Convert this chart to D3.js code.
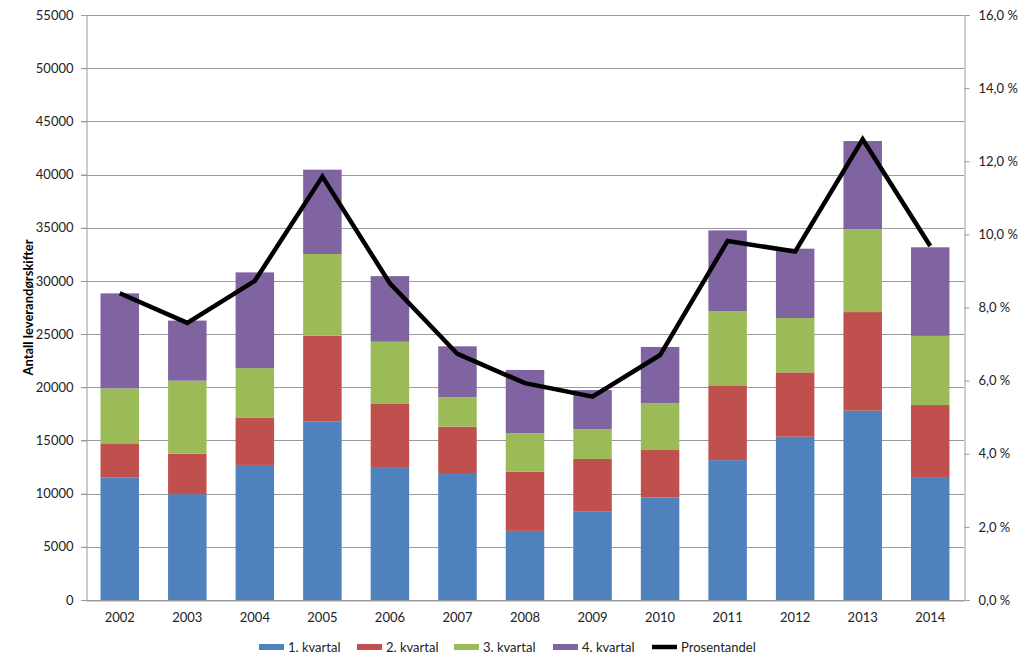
<!DOCTYPE html>
<html>
<head>
<meta charset="utf-8">
<script src="https://cdn.jsdelivr.net/npm/d3@7"></script>
<style>
  html, body { margin: 0; padding: 0; background: #fff; }
  svg { display: block; font-family: Lato, "Open Sans", sans-serif; }
</style>
</head>
<body>
<svg id="chart" width="1024" height="669"></svg>
<script>
const years = ["2002","2003","2004","2005","2006","2007","2008","2009","2010","2011","2012","2013","2014"];
const seriesNames = ["1. kvartal","2. kvartal","3. kvartal","4. kvartal"];
const q1 = [11500, 9950, 12700, 16800, 12500, 11850, 6500, 8300, 9650, 13150, 15350, 17800, 11480];
const q2 = [3230, 3800, 4460, 8050, 5980, 4450, 5570, 4960, 4450, 7030, 6050, 9270, 6850];
const q3 = [5170, 6870, 4640, 7680, 5800, 2760, 3600, 2790, 4390, 6980, 5110, 7770, 6500];
const q4 = [8930, 5650, 9000, 7930, 6170, 4790, 5960, 3690, 5300, 7590, 6520, 8310, 8330];
const pct = [8.39, 7.58, 8.73, 11.58, 8.66, 6.73, 5.93, 5.56, 6.70, 9.82, 9.53, 12.60, 9.68];
const leftTicks = [0,5000,10000,15000,20000,25000,30000,35000,40000,45000,50000,55000];
const rightTicks = [0,2,4,6,8,10,12,14,16];
const yTitle = "Antall leverandørskifter";
const lineName = "Prosentandel";

const colors = ["#4F81BD","#C0504D","#9BBB59","#8064A2"];
const svg = d3.select("#chart");
const L = 86, R = 964, T = 15, B = 600;

const x = d3.scaleBand().domain(years).range([L, R]).paddingInner(0.43).paddingOuter(0.215);
const y = d3.scaleLinear().domain([0, 55000]).range([B, T]);
const y2 = d3.scaleLinear().domain([0, 16]).range([B, T]);

// gridlines
svg.append("g").selectAll("line").data(leftTicks).join("line")
  .attr("x1", L - 5).attr("x2", R)
  .attr("y1", d => Math.round(y(d)) + 0.5).attr("y2", d => Math.round(y(d)) + 0.5)
  .attr("stroke", "#9a9a9a").attr("stroke-width", 1);

// left axis
const gl = svg.append("g").attr("transform", `translate(${L + 0.5},0)`)
  .call(d3.axisLeft(y).tickValues(leftTicks).tickFormat(d3.format("d")).tickSize(5).tickPadding(8));
gl.select(".domain").attr("stroke", "#9a9a9a");
gl.selectAll(".tick line").attr("stroke", "#9a9a9a");
gl.selectAll("text").attr("font-size", 13).attr("fill", "#222").attr("font-family", "Lato, sans-serif");

// right axis
const fmtPct = d => d3.format(".1f")(d).replace(".", ",") + " %";
const gr = svg.append("g").attr("transform", `translate(${R + 0.5},0)`)
  .call(d3.axisRight(y2).tickValues(rightTicks).tickFormat(fmtPct).tickSize(5).tickPadding(9));
gr.select(".domain").attr("stroke", "#9a9a9a");
gr.selectAll(".tick line").attr("stroke", "#9a9a9a");
gr.selectAll("text").attr("font-size", 13).attr("fill", "#222").attr("font-family", "Lato, sans-serif");

// stacked bars
const rows = years.map((yr, i) => ({year: yr, s0: q1[i], s1: q2[i], s2: q3[i], s3: q4[i]}));
const stack = d3.stack().keys(["s0","s1","s2","s3"])(rows);
svg.append("g").selectAll("g").data(stack).join("g")
  .attr("fill", (d, i) => colors[i])
  .selectAll("rect").data(d => d).join("rect")
  .attr("x", d => x(d.data.year))
  .attr("width", x.bandwidth())
  .attr("y", d => y(d[1]))
  .attr("height", d => y(d[0]) - y(d[1]));

// bottom axis
const gb = svg.append("g").attr("transform", `translate(0,${B + 0.5})`)
  .call(d3.axisBottom(x).tickSize(0).tickPadding(12));
gb.select(".domain").attr("stroke", "#9a9a9a");
gb.selectAll("text").attr("font-size", 13).attr("fill", "#222").attr("font-family", "Lato, sans-serif");

// line
const line = d3.line().x((d, i) => x(years[i]) + x.bandwidth() / 2).y(d => y2(d));
svg.append("path").datum(pct).attr("d", line)
  .attr("fill", "none").attr("stroke", "#000").attr("stroke-width", 4.5)
  .attr("stroke-linejoin", "miter");

// y title
svg.append("text")
  .attr("transform", `translate(33,${(T + B) / 2}) rotate(-90)`)
  .attr("text-anchor", "middle")
  .attr("font-size", 13).attr("font-weight", "bold").attr("fill", "#000")
  .text(yTitle);

// legend
const legendItems = seriesNames.map((n, i) => ({name: n, color: colors[i], line: false}))
  .concat([{name: lineName, color: "#000", line: true}]);
const legendX = [259, 357, 454, 553, 652];
const lg = svg.append("g");
legendItems.forEach((d, i) => {
  const g = lg.append("g").attr("transform", `translate(${legendX[i]},647)`);
  if (d.line) {
    g.append("line").attr("x1", 0).attr("x2", 25).attr("y1", 0).attr("y2", 0)
      .attr("stroke", d.color).attr("stroke-width", 4.5);
  } else {
    g.append("rect").attr("x", 0).attr("y", -3).attr("width", 25).attr("height", 6).attr("fill", d.color);
  }
  g.append("text").attr("x", 29).attr("y", 0).attr("dy", "0.35em")
    .attr("font-size", 13).attr("fill", "#222").text(d.name);
});
</script>
</body>
</html>
